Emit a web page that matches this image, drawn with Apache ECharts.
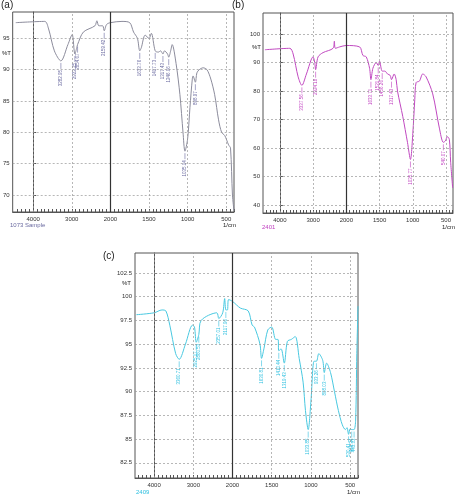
<!DOCTYPE html><html><head><meta charset="utf-8">
<script src="https://cdn.jsdelivr.net/npm/echarts@6/dist/echarts.min.js"></script>
<style>html,body{margin:0;background:#fff}#c{width:455px;height:500px}</style></head><body><div id="c"></div>
<script>
const specA=[[4450,97.5],[3700,97.7],[3600,96.5],[3450,93],[3282,91.4],[3100,94],[2990,95.6],[2920,92.5],[2870,93.5],[2850,94],[2700,96],[2400,97],[2350,97.8],[2300,97],[2200,97],[2160,96.2],[2100,97.2],[2000,97.5],[1850,97.7],[1750,97.5],[1700,96],[1650,95],[1620,93],[1600,93.5],[1550,95.5],[1500,95],[1470,95.8],[1420,93],[1380,92.8],[1350,93],[1320,92.5],[1300,93],[1260,92.5],[1245,92],[1220,93],[1200,94],[1150,91],[1100,86],[1060,80],[1035,77],[1000,79],[970,84],[940,88.5],[930,89],[900,88],[880,89.5],[850,90],[800,90.3],[750,90],[700,88.5],[650,86],[600,82],[560,80],[520,79.5],[470,78],[445,77.5],[420,70],[400,67.5]];
const specB=[[4450,94.5],[3700,95],[3600,93],[3450,85],[3337,82],[3200,86],[3000,92],[2950,90],[2924,87.5],[2850,92],[2700,93.5],[2400,95],[2360,97.5],[2330,95],[2200,95.5],[2000,96],[1800,95.5],[1750,92.5],[1700,92],[1650,88],[1630,84],[1600,88],[1550,90],[1520,89],[1500,90.5],[1460,87],[1420,87],[1380,86],[1340,85.5],[1320,84],[1280,86],[1250,84],[1230,80],[1150,71],[1080,62],[1035,56],[1000,65],[970,77],[950,83],[900,83.5],[850,86],[800,85],[700,79],[600,67],[540,62],[510,62.5],[480,64],[450,63],[430,55],[400,46]];
const specC=[[4450,98.1],[4000,98.3],[3800,98.6],[3700,98.5],[3600,97],[3450,94],[3360,93.4],[3200,95],[3020,97],[2970,96.8],[2925,95.2],[2860,96],[2800,97.5],[2400,98.3],[2350,97.7],[2250,98.3],[2200,99.8],[2170,98.6],[2130,98.6],[2100,99.7],[2000,99.5],[1900,98.8],[1800,98.5],[1750,97],[1720,96.8],[1650,95],[1630,93.5],[1600,94.5],[1550,96.5],[1500,96.8],[1450,95.5],[1420,95.5],[1410,94.3],[1380,94.5],[1340,93],[1300,95.3],[1250,95.5],[1200,95.8],[1150,93.5],[1100,91],[1070,88],[1035,86],[1000,89],[960,93.2],[930,93.2],[900,94],[850,93.3],[830,92],[800,93],[750,92],[700,90],[650,88],[600,86.5],[560,86],[540,86.2],[520,85.5],[500,86.1],[480,86],[450,86],[430,87],[415,94],[400,99]];
const peaksA=[[3282,91.4,'3282.95'],[2920,92.5,'2922.25'],[2850,94,'2854.67'],[2160,96.2,'2159.42'],[1620,93,'1633.76'],[1420,93,'1417.73'],[1320,92.5,'1317.43'],[1245,92,'1246.06'],[1035,77,'1035.14'],[900,88,'898.97']];
const peaksB=[[3337,82,'3337.56'],[2924,87.5,'2924.18'],[1630,84,'1633.71'],[1520,89,'1521.84'],[1460,87,'1456.26'],[1320,84,'1317.43'],[1035,56,'1035.77'],[540,62,'540.07']];
const peaksC=[[3360,93.4,'3360.71'],[2925,95.2,'2925.17'],[2860,96,'2860.53'],[2350,97.7,'2357.01'],[2170,98.6,'2117.96'],[1630,93.5,'1630.81'],[1410,94.3,'1410.44'],[1340,93,'1319.43'],[1035,86,'1033.85'],[930,93.2,'933.26'],[830,92,'808.03'],[520,85.5,'530.41'],[480,86,'466.34'],[450,86,'443.33']];
const xTicks=[4000,3000,2000,1500,1000,500];
const yTicksA=[70,75,80,85,90,95];
const yTicksB=[40,50,60,70,80,90,100];
const yTicksC=[82.5,85,87.5,90,92.5,95,97.5,100,102.5];

const u=w=>w>=2000?(4000-w)/1000:2+(2000-w)/500;
const inv=v=>v<=2?4000-v*1000:2000-(v-2)*500;
const minor=[];for(let w=4400;w>=400;w-=(w>2000?100:50))minor.push(u(w));
const panels=[
 {spec:specA,peaks:peaksA,yt:yTicksA,col:'#8c8c9c',lab:'#6a6aa0',box:[12,12,234,212],y:[67.3,99.2],x:[4530,400],yoff:-14,fmt:v=>v},
 {spec:specB,peaks:peaksB,yt:yTicksB,col:'#c048c0',lab:'#c040c0',box:[263,13,453,213],y:[37.2,107.4],x:[4507,395],yoff:-14,fmt:v=>v},
 {spec:specC,peaks:peaksC,yt:yTicksC,col:'#48c8e0',lab:'#30c0e0',box:[135,253,358,478],y:[80.9,104.6],x:[4487,400],yoff:-12,fmt:v=>v}
];
const grid=[],xAxis=[],yAxis=[],series=[];
panels.forEach((p,i)=>{
 grid.push({left:p.box[0],top:p.box[1],width:p.box[2]-p.box[0],height:p.box[3]-p.box[1],show:true,borderColor:'#555',borderWidth:1});
 xAxis.push({type:'value',gridIndex:i,min:u(p.x[0]),max:u(p.x[1]),splitLine:{show:false},axisLine:{lineStyle:{color:'#555'}},
  axisTick:{show:true,inside:true,length:3,customValues:minor,lineStyle:{color:'#555'}},
  axisLabel:{customValues:xTicks.map(u),formatter:v=>String(Math.round(inv(v))),fontSize:6,color:'#333',margin:4,fontFamily:'Liberation Sans'}});
 yAxis.push({type:'value',gridIndex:i,min:p.y[0],max:p.y[1],splitLine:{show:false},axisLine:{lineStyle:{color:'#555'}},
  axisTick:{show:true,inside:true,length:3,customValues:p.yt},
  axisLabel:{customValues:p.yt,fontSize:6,color:'#333',margin:3,fontFamily:'Liberation Sans'}});
 const ml=[];
 xTicks.forEach(w=>{if(w!==2000)ml.push({xAxis:u(w)});});
 p.yt.forEach(v=>ml.push({yAxis:v}));
 ml.push({xAxis:2,lineStyle:{type:'solid',color:'#333',width:1.2}});
 series.push({type:'line',xAxisIndex:i,yAxisIndex:i,data:p.spec.map(d=>[u(d[0]),d[1]]),showSymbol:false,smooth:0.3,
  lineStyle:{color:p.col,width:1},z:3,
  markLine:{silent:true,symbol:'none',label:{show:false},lineStyle:{type:[2,2],color:'#999',width:0.7},data:ml}});
 series.push({type:'custom',xAxisIndex:i,yAxisIndex:i,z:4,data:p.peaks.map(d=>[u(d[0]),d[1],d[2]]),
  renderItem:(params,api)=>{const pt=api.coord([api.value(0),api.value(1)]);const t=api.value(2);
   return {type:'group',children:[
    {type:'line',shape:{x1:pt[0],y1:pt[1]+2,x2:pt[0],y2:pt[1]+8},style:{stroke:p.lab,lineWidth:0.6}},
    {type:'text',x:pt[0],y:pt[1]+9,rotation:Math.PI/2,style:{text:t,fill:p.lab,fontSize:4.5,align:'right',verticalAlign:'middle',fontFamily:'Liberation Sans'}}]};}});
});
const txt=(l,t,s,c,f)=>({type:'text',left:l,top:t,style:{text:s,fill:c||'#222',fontSize:f||6,fontFamily:'Liberation Sans'}});
const chart=echarts.init(document.getElementById('c'));
chart.setOption({animation:false,grid,xAxis,yAxis,series,graphic:[
 txt(1,0,'(a)','#222',10),txt(232,0,'(b)','#222',10),txt(103,251,'(c)','#222',10),
 txt(2,50,'%T'),txt(252,44,'%T'),txt(122,280,'%T'),
 txt(10,222,'1073 Sample','#6a6aa0'),txt(262,224,'2401','#c040c0'),txt(136,489,'2409','#30c0e0'),
 txt(223,222,'1/cm'),txt(442,224,'1/cm'),txt(347,489,'1/cm')]});
</script></body></html>
